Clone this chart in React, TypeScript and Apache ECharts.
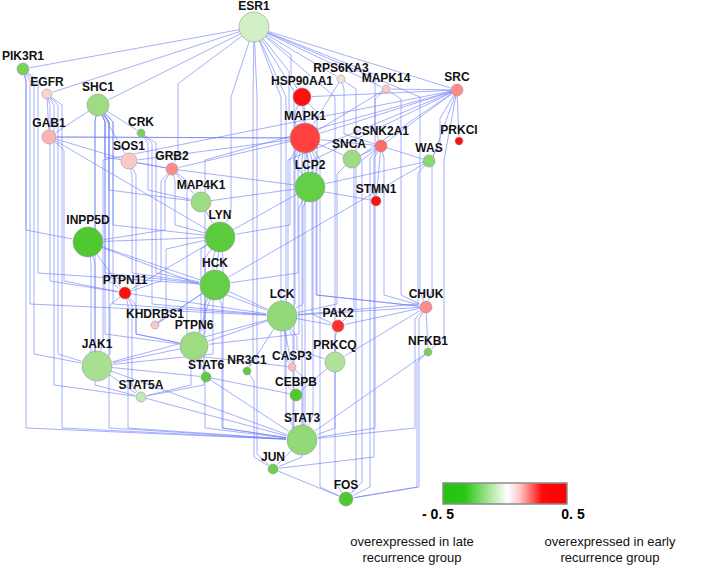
import React, { useEffect, useRef } from "react";
import * as echarts from "echarts";

const nodeNames = ["ESR1","PIK3R1","EGFR","SHC1","CRK","GAB1","SOS1","GRB2","MAP4K1","HSP90AA1","MAPK1","RPS6KA3","MAPK14","SRC","PRKCI","CSNK2A1","SNCA","WAS","LCP2","STMN1","INPP5D","LYN","HCK","PTPN11","KHDRBS1","LCK","PAK2","CHUK","PTPN6","JAK1","PRKCQ","CASP3","NR3C1","STAT6","NFKB1","STAT5A","CEBPB","STAT3","JUN","FOS"];
const nodeX = [254,23,47,98,141,49,129,172,201,302,305,341,386,457,459,381,352,429,310,376,88,220,215,125,155,282,338,426,194,97,335,292,247,206,428,141,296,302,273,346];
const nodeY = [27,69,94,105,133,137,161,169,202,97,138,79,89,90,141,146,159,161,187,201,242,237,285,293,325,316,326,307,346,366,362,367,371,377,352,397,395,440,469,499];
const expression = [-0.1,-0.35,0.12,-0.25,-0.35,0.22,0.15,0.3,-0.25,0.5,0.42,0.08,0.15,0.3,0.5,0.35,-0.25,-0.3,-0.4,0.5,-0.45,-0.42,-0.4,0.5,0.15,-0.28,0.45,0.3,-0.25,-0.22,-0.2,0.18,-0.42,-0.42,-0.35,-0.15,-0.45,-0.28,-0.38,-0.45];
const nodeWeight = [15,6,5,11,4,7,8,6,10,9,15,4,4,6,4,6,9,6,15,5,15,15,15,6,4,15,6,6,14,15,10,4,4,5,4,5,6,15,5,7];

const edges = [
["ESR1","PIK3R1"],["ESR1","EGFR"],["ESR1","SHC1"],["ESR1","GRB2"],["ESR1","HSP90AA1"],["ESR1","MAPK1"],["ESR1","MAPK14"],["ESR1","SRC"],["ESR1","LCP2"],["ESR1","CSNK2A1"],["ESR1","LYN"],["ESR1","STAT3"],["ESR1","CHUK"],["ESR1","FOS"],["ESR1","JUN"],["ESR1","NR3C1"],["ESR1","CASP3"],["ESR1","RPS6KA3"],
["SHC1","GAB1"],["SHC1","CRK"],["SHC1","SOS1"],["SHC1","GRB2"],["SHC1","MAP4K1"],["SHC1","LYN"],["SHC1","INPP5D"],["SHC1","HCK"],["SHC1","PTPN11"],["SHC1","LCK"],["SHC1","JAK1"],["SHC1","PTPN6"],["SHC1","STAT3"],
["EGFR","GAB1"],["EGFR","PTPN11"],["EGFR","STAT5A"],["EGFR","JAK1"],["EGFR","STAT3"],
["PIK3R1","STAT3"],["PIK3R1","LCK"],["PIK3R1","JAK1"],["PIK3R1","HCK"],["PIK3R1","INPP5D"],
["GAB1","MAPK1"],["GAB1","SOS1"],["GAB1","PTPN11"],["GAB1","LYN"],
["CRK","MAP4K1"],["CRK","LCK"],["CRK","HCK"],
["SOS1","HCK"],["SOS1","PTPN6"],
["GRB2","SOS1"],["GRB2","MAP4K1"],["GRB2","LCP2"],["GRB2","INPP5D"],["GRB2","PTPN11"],["GRB2","CASP3"],["GRB2","LYN"],
["MAPK1","GRB2"],["MAPK1","GAB1"],["MAPK1","SOS1"],["MAPK1","SNCA"],["MAPK1","LCP2"],["MAPK1","STAT3"],["MAPK1","LYN"],["MAPK1","STMN1"],["MAPK1","PAK2"],["MAPK1","CHUK"],["MAPK1","FOS"],["MAPK1","JUN"],["MAPK1","HCK"],
["HSP90AA1","MAPK1"],["HSP90AA1","CHUK"],["HSP90AA1","STAT3"],["HSP90AA1","LCK"],
["RPS6KA3","MAPK1"],["RPS6KA3","FOS"],["RPS6KA3","CSNK2A1"],
["MAPK14","MAPK1"],["MAPK14","STAT3"],["MAPK14","CHUK"],
["SRC","HSP90AA1"],["SRC","MAPK14"],["SRC","MAPK1"],["SRC","PRKCI"],["SRC","CHUK"],["SRC","STAT3"],["SRC","PAK2"],["SRC","LCK"],["SRC","PTPN6"],["SRC","FOS"],["SRC","JAK1"],["SRC","WAS"],["SRC","NFKB1"],
["CSNK2A1","SNCA"],["CSNK2A1","WAS"],["CSNK2A1","STMN1"],["CSNK2A1","CHUK"],["CSNK2A1","JUN"],["CSNK2A1","FOS"],["CSNK2A1","MAPK1"],
["WAS","LCP2"],["WAS","HCK"],["WAS","LCK"],
["SNCA","LCK"],
["LCP2","LYN"],["LCP2","LCK"],["LCP2","PTPN6"],
["MAP4K1","LCP2"],["MAP4K1","LYN"],
["LYN","INPP5D"],["LYN","PTPN11"],["LYN","PTPN6"],["LYN","STAT3"],["LYN","JAK1"],["LYN","HCK"],
["INPP5D","PTPN11"],["INPP5D","JAK1"],["INPP5D","STAT5A"],["INPP5D","LCK"],
["HCK","PTPN6"],["HCK","LCK"],["HCK","STAT3"],["HCK","STAT5A"],["HCK","KHDRBS1"],["HCK","INPP5D"],
["PTPN11","LCK"],["PTPN11","PTPN6"],["PTPN11","JAK1"],["PTPN11","STAT3"],["PTPN11","STAT5A"],
["KHDRBS1","LYN"],["KHDRBS1","HCK"],
["LCK","PAK2"],["LCK","PTPN6"],["LCK","CASP3"],["LCK","PRKCQ"],["LCK","CEBPB"],["LCK","NR3C1"],["LCK","STAT3"],["LCK","JAK1"],
["PTPN6","JAK1"],["PTPN6","LYN"],["PTPN6","STAT3"],["PTPN6","STAT6"],["PTPN6","STAT5A"],
["CHUK","PAK2"],["CHUK","PRKCQ"],["CHUK","NFKB1"],["CHUK","LCK"],["CHUK","FOS"],["CHUK","STAT3"],
["JAK1","STAT5A"],["JAK1","STAT3"],["JAK1","STAT6"],
["PRKCQ","CEBPB"],["STAT6","CEBPB"],["STAT6","STAT3"],["NR3C1","JUN"],["CASP3","STAT3"],["STAT3","JUN"],["JUN","FOS"],["NFKB1","STAT3"],["NFKB1","FOS"],["STAT5A","STAT3"],["PAK2","STAT3"]
];

const legendLow = "- 0. 5";
const legendHigh = "0. 5";
const legendLowText = ["overexpressed in late", "recurrence group"];
const legendHighText = ["overexpressed in early", "recurrence group"];

const hubs = new Set(["ESR1", "SRC"]);
const idx: Record<string, number> = {};
nodeNames.forEach((n, i) => (idx[n] = i));

function buildRoute(a: string, b: string, k: number) {
  const i = idx[a], j = idx[b];
  const sx = nodeX[i], sy = nodeY[i], tx = nodeX[j], ty = nodeY[j];
  const rs = nodeWeight[i], rt = nodeWeight[j];
  const dx = tx - sx, dy = ty - sy;
  const dist = Math.hypot(dx, dy);
  const sg = dy >= 0 ? 1 : -1;
  let pts: number[][];
  if (Math.abs(dy) < 0.7 * Math.abs(dx) || dist < 70) {
    pts = [[sx, sy]];
  } else if (hubs.has(a)) {
    const side = sx >= tx ? 1 : -1;
    const bx = tx + side * (6 + (k % 3) * 5);
    const by1 = sy + sg * Math.min(Math.abs(dy) * 0.4, 70);
    pts = [[sx, sy], [bx, by1], [bx, ty - sg * (rt + 10)]];
  } else {
    const side = tx >= sx ? 1 : -1;
    const bx = sx + side * (3 + (k % 4) * 4);
    pts = [[sx, sy], [bx, sy + sg * (rs + 6)], [bx, ty - sg * 12]];
  }
  const last = pts[pts.length - 1];
  const lx = tx - last[0], ly = ty - last[1];
  const ll = Math.hypot(lx, ly) || 1;
  pts.push([tx - (lx / ll) * (rt + 1), ty - (ly / ll) * (rt + 1)]);
  return pts;
}

const labelTweaks: Record<string, any> = {
  ESR1: { distance: 0 },
  CSNK2A1: { distance: 3 },
  SNCA: { distance: 0, offset: [-3, 0] },
};

export default function App() {
  const ref = useRef<HTMLDivElement>(null);
  useEffect(() => {
    if (!ref.current) return;
    const chart = echarts.init(ref.current, undefined, { renderer: "svg" });
    const edgeData = edges.map((e, k) => ({ coords: buildRoute(e[0], e[1], k) }));
    const nodeData = nodeNames.map((n, i) => ({
      name: n,
      value: [nodeX[i], nodeY[i], expression[i], nodeWeight[i]],
      label: labelTweaks[n],
    }));
    chart.setOption({
      animation: false,
      backgroundColor: "#ffffff",
      grid: { left: 0, right: 0, top: 0, bottom: 0 },
      xAxis: { type: "value", min: 0, max: 708, show: false },
      yAxis: { type: "value", min: 0, max: 566, inverse: true, show: false },
      visualMap: {
        type: "continuous",
        show: false,
        seriesIndex: 1,
        dimension: 2,
        min: -0.5,
        max: 0.5,
        inRange: { color: ["#3cc41c", "#9edc84", "#f4fbf1", "#ffa8a8", "#ff1010"] },
      },
      series: [
        {
          type: "lines",
          coordinateSystem: "cartesian2d",
          polyline: true,
          silent: true,
          symbol: ["none", "arrow"],
          symbolSize: 4,
          lineStyle: { color: "#6b7cf6", width: 0.75, opacity: 0.8 },
          data: edgeData,
          z: 1,
        },
        {
          type: "scatter",
          coordinateSystem: "cartesian2d",
          data: nodeData,
          symbolSize: (v: number[]) => v[3] * 2,
          itemStyle: { borderColor: "#9a9a9a", borderWidth: 0.6, opacity: 1 },
          label: {
            show: true,
            position: "top",
            distance: 1,
            lineHeight: 11,
            formatter: (p: any) => p.name,
            fontFamily: "Liberation Sans, Arial, sans-serif",
            fontWeight: "bold",
            fontSize: 12,
            color: "#111111",
          },
          z: 3,
        },
      ],
      graphic: [
        {
          type: "rect",
          shape: { x: 443, y: 483, width: 124, height: 21 },
          style: {
            fill: new echarts.graphic.LinearGradient(0, 0, 1, 0, [
              { offset: 0, color: "#22c40f" },
              { offset: 0.18, color: "#2bc617" },
              { offset: 0.35, color: "#9be08c" },
              { offset: 0.52, color: "#ffffff" },
              { offset: 0.62, color: "#ffc6c6" },
              { offset: 0.8, color: "#ff0a0a" },
              { offset: 1, color: "#ff0000" },
            ]),
            stroke: "#8c8c8c",
            lineWidth: 1.5,
          },
        },
        {
          type: "text",
          x: 438, y: 514,
          style: { text: legendLow, fontSize: 14, fontWeight: "bold", fontFamily: "Liberation Sans, Arial, sans-serif", fill: "#000", align: "center", verticalAlign: "middle" },
        },
        {
          type: "text",
          x: 573, y: 514,
          style: { text: legendHigh, fontSize: 14, fontWeight: "bold", fontFamily: "Liberation Sans, Arial, sans-serif", fill: "#000", align: "center", verticalAlign: "middle" },
        },
        ...legendLowText.map((t, i) => ({
          type: "text",
          x: 412, y: 541 + i * 16,
          style: { text: t, fontSize: 13, fontFamily: "Liberation Sans, Arial, sans-serif", fill: "#111", align: "center", verticalAlign: "middle" },
        })),
        ...legendHighText.map((t, i) => ({
          type: "text",
          x: 610, y: 541 + i * 16,
          style: { text: t, fontSize: 13, fontFamily: "Liberation Sans, Arial, sans-serif", fill: "#111", align: "center", verticalAlign: "middle" },
        })),
      ],
    });
    return () => chart.dispose();
  }, []);
  return <div ref={ref} style={{ position: "fixed", left: 0, top: 0, width: 708, height: 566 }} />;
}
